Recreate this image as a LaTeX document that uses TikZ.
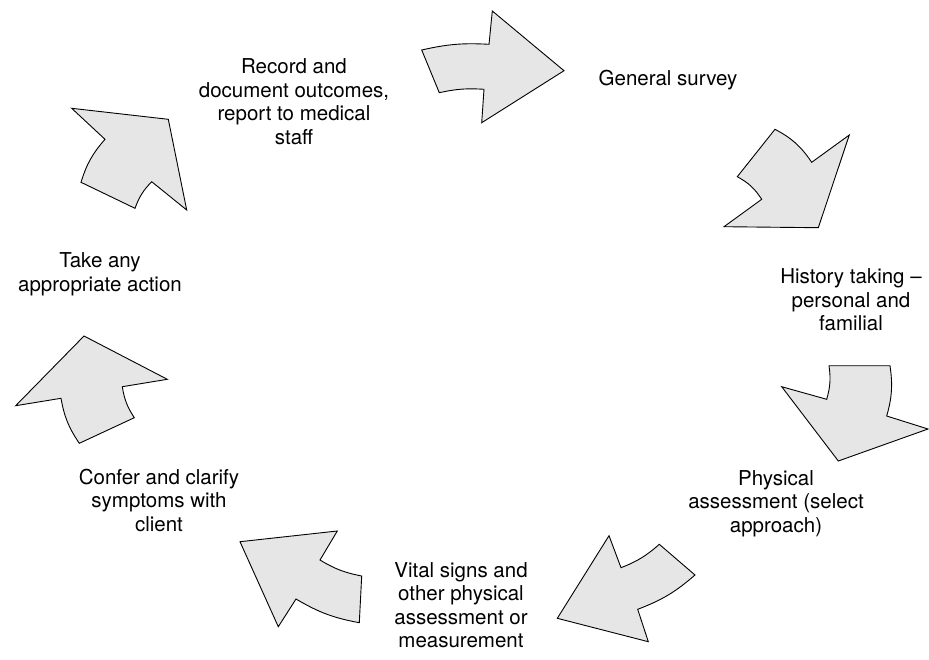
\documentclass[tikz,border=0pt]{standalone}
\usepackage{fontspec}
\setmainfont{TeX Gyre Heros}
\begin{document}
\begin{tikzpicture}[x=1pt,y=-1pt,
  arr/.style={draw=black,fill=arrgrey,line width=0.9pt,line join=miter},
  lbl/.style={align=center,font=\fontsize{20.5}{23.5}\selectfont,inner sep=0pt}]
\definecolor{arrgrey}{HTML}{E6E6E6}
\useasboundingbox (0,0) rectangle (929,659);
% arrow 1 (top)
\draw[arr] (421.7,50) to[bend left=8] (489,44.3) -- (492.3,11) -- (564,70.7) -- (481.7,122.7) -- (484,89.3) to[bend right=8] (439.3,92.7) -- cycle;
% arrow 2
\draw[arr] (737.3,176.7) -- (775,129.3) to[bend left=14] (811.7,162.3) -- (849.3,135) -- (818.3,227.7) -- (724,226.7) -- (761.7,199.3) to[bend right=14] (737.3,176.7) -- cycle;
% arrow 3
\draw[arr] (781.7,386.7) -- (826.7,399.3) to[bend right=12] (829,365.7) -- (890,365.7) to[bend left=12] (886.7,416) -- (928,429) -- (838.3,461) -- cycle;
% arrow 4
\draw[arr] (557.3,618.3) -- (609,535.7) -- (621,567.7) to[bend right=10] (659.3,544.3) -- (695,575) to[bend left=10] (637.7,609.3) -- (648.3,641.7) -- cycle;
% arrow 5
\draw[arr] (240,541.7) -- (337.3,531) -- (320,560) to[bend right=10] (361.7,576) -- (359.3,622.7) to[bend left=10] (296,599) -- (278.3,626.7) -- cycle;
% arrow 6
\draw[arr] (15.7,405.7) -- (84,336) -- (167.3,379.3) -- (122.3,386.7) to[bend right=12] (134.3,417.7) -- (79.3,443.3) to[bend left=12] (61,398.3) -- cycle;
% arrow 7
\draw[arr] (71.7,108.3) -- (168.3,119.3) -- (186.7,210) -- (151.7,181.7) to[bend right=12] (135,208.3) -- (81,182.3) to[bend left=12] (105,139.3) -- cycle;
% labels
\node[lbl] (rec) at (294,101.5) {Record and\\document outcomes,\\report to medical\\staff};
\node[lbl] (gen) at (668,80) {General survey};
\node[lbl] (his) at (851,300) {History taking –\\personal and\\familial};
\node[lbl] (phy) at (776,503.5) {Physical\\assessment (select\\approach)};
\node[lbl] (vit) at (461,605) {Vital signs and\\other physical\\assessment or\\measurement};
\node[lbl] (con) at (159,500) {Confer and clarify\\symptoms with\\client};
\node[lbl] (tak) at (100,274.5) {Take any\\appropriate action};
\end{tikzpicture}
\end{document}
